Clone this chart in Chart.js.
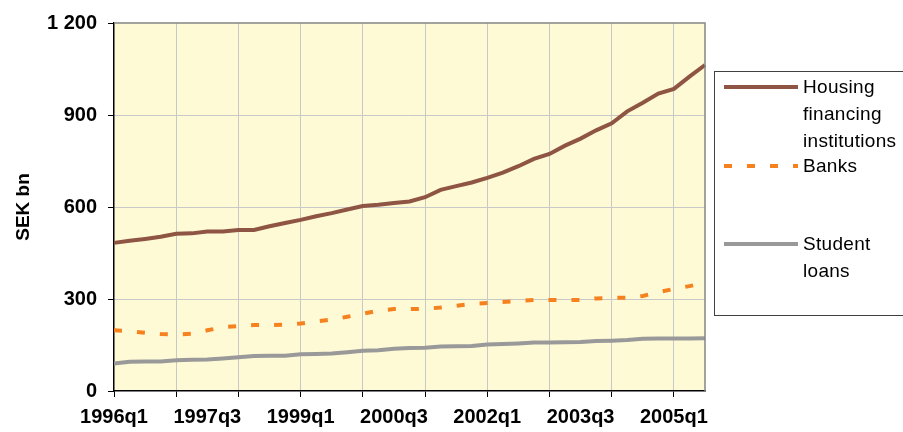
<!DOCTYPE html>
<html>
<head>
<meta charset="utf-8">
<script src="https://cdn.jsdelivr.net/npm/chart.js@4"></script>
<style>
  html, body { margin: 0; padding: 0; background: #fff; overflow: hidden; }
  #wrap { position: relative; width: 903px; height: 432px; }
  #legend { position: absolute; left: 714px; top: 71px; width: 200px; height: 245px;
            border: 1px solid #404040; box-sizing: border-box;
            font-family: "Liberation Sans", Arial, sans-serif; font-size: 19px; color: #000;
            letter-spacing: 0.3px; }
  .item { position: absolute; left: 88px; line-height: 27px; }
  .swatch { position: absolute; left: 9px; width: 74px; height: 4px; }
</style>
</head>
<body>
<div id="wrap">
  <canvas id="line-chart"></canvas>
  <div id="legend"></div>
</div>
<script>
var quarters = ["1996q1","1996q2","1996q3","1996q4","1997q1","1997q2","1997q3","1997q4",
                "1998q1","1998q2","1998q3","1998q4","1999q1","1999q2","1999q3","1999q4",
                "2000q1","2000q2","2000q3","2000q4","2001q1","2001q2","2001q3","2001q4",
                "2002q1","2002q2","2002q3","2002q4","2003q1","2003q2","2003q3","2003q4",
                "2004q1","2004q2","2004q3","2004q4","2005q1","2005q2","2005q3"];

var housing = [483,490,496,503,513,514,520,520,525,525,537,548,558,570,580,592,
               603,607,613,618,632,656,668,680,695,712,733,757,773,800,823,850,
               873,912,940,970,985,1025,1063];

var banks = [198,195,190,186,184,187,198,208,212,215,215,216,220,227,233,242,
             252,262,267,267,268,272,278,284,287,290,293,297,297,297,297,302,
             304,304,310,322,333,342,352];

var student = [90,95,96,96,100,102,103,106,110,114,115,115,120,121,122,126,
               131,133,138,140,141,145,146,147,152,153,155,158,158,159,160,163,
               164,166,170,171,171,171,172];

var yTicks = [0, 300, 600, 900, 1200];
var seriesNames = [["Housing", "financing", "institutions"], ["Banks"], ["Student", "loans"]];

var colors = ["#8e5444", "#f5821f", "#999999"];

var plotBg = {
    id: 'plotBg',
    beforeDraw: function (c) {
        var a = c.chartArea, ctx = c.ctx;
        ctx.save();
        ctx.fillStyle = "#fffad6";
        ctx.fillRect(a.left, a.top, a.right - a.left, a.bottom - a.top);
        ctx.restore();
    },
    afterDatasetsDraw: function (c) {
        var a = c.chartArea, ctx = c.ctx;
        ctx.save();
        ctx.strokeStyle = "#858585";
        ctx.lineWidth = 1.5;
        ctx.beginPath();
        ctx.moveTo(a.left, a.top);
        ctx.lineTo(a.right, a.top);
        ctx.lineTo(a.right, a.bottom);
        ctx.stroke();
        ctx.restore();
    }
};

var font = { family: "'Liberation Sans', Arial, sans-serif", size: 20, weight: 'bold' };

var ctx = document.getElementById('line-chart').getContext('2d');
var chart = new Chart(ctx, {
    type: 'line',
    data: {
        labels: quarters,
        datasets: [{
            label: seriesNames[0].join(" "),
            data: housing,
            borderColor: colors[0],
            borderWidth: 4,
            pointRadius: 0,
            tension: 0
        }, {
            label: seriesNames[1].join(" "),
            data: banks,
            borderColor: colors[1],
            borderWidth: 4,
            borderDash: [8, 15],
            pointRadius: 0,
            tension: 0
        }, {
            label: seriesNames[2].join(" "),
            data: student,
            borderColor: colors[2],
            borderWidth: 4,
            pointRadius: 0,
            tension: 0
        }]
    },
    options: {
        responsive: true,
        maintainAspectRatio: false,
        animation: false,
        layout: { padding: { top: 23, right: 198, bottom: 0, left: 0 } },
        plugins: { legend: { display: false }, tooltip: { enabled: false } },
        scales: {
            x: {
                offset: false,
                afterFit: function (s) { s.height = 41; },
                border: { color: "#000", width: 1.5 },
                grid: {
                    color: function (c) { return c.index % 4 === 0 && c.index > 0 ? "#c8c8c8" : "rgba(0,0,0,0)"; },
                    tickColor: function (c) { return c.index % 4 === 0 ? "#000" : "rgba(0,0,0,0)"; },
                    tickLength: 6
                },
                ticks: {
                    autoSkip: false,
                    maxRotation: 0,
                    padding: 8,
                    color: "#000",
                    font: font,
                    callback: function (v, i) { return i % 6 === 0 ? quarters[i] : ''; }
                }
            },
            y: {
                min: 0,
                max: 1200,
                afterFit: function (s) { s.width = 114; },
                afterBuildTicks: function (s) { s.ticks = yTicks.map(function (v) { return { value: v }; }); },
                border: { color: "#000", width: 1.5 },
                grid: {
                    color: function (c) { return c.tick && c.tick.value > 0 && c.tick.value < 1200 ? "#c8c8c8" : "rgba(0,0,0,0)"; },
                    tickColor: "#000",
                    tickLength: 6
                },
                ticks: {
                    padding: 11,
                    color: "#000",
                    font: font,
                    callback: function (v) { return v >= 1000 ? Math.floor(v / 1000) + " " + String(v % 1000).padStart(3, "0") : v; }
                },
                title: {
                    display: true,
                    text: "SEK bn",
                    color: "#000",
                    font: { family: "'Liberation Sans', Arial, sans-serif", size: 19, weight: 'bold' },
                    padding: { top: 12, bottom: 0 }
                }
            }
        }
    },
    plugins: [plotBg]
});

// legend built from the series names
var legend = document.getElementById('legend');
var itemTops = [1, 80, 158];
seriesNames.forEach(function (lines, k) {
    var sw = document.createElement('div');
    sw.className = 'swatch';
    sw.style.top = (itemTops[k] + 12) + 'px';
    if (k === 1) {
        sw.style.background = "repeating-linear-gradient(to right, " + colors[1] + " 0 8px, transparent 8px 23px)";
    } else {
        sw.style.background = colors[k];
    }
    legend.appendChild(sw);
    var t = document.createElement('div');
    t.className = 'item';
    t.style.top = itemTops[k] + 'px';
    t.innerHTML = lines.join("<br>");
    legend.appendChild(t);
});
</script>
</body>
</html>
